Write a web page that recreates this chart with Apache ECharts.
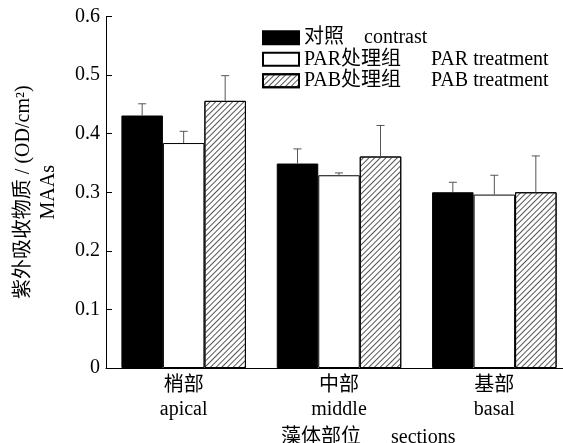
<!DOCTYPE html>
<html lang="zh">
<head>
    <meta charset="UTF-8">
    <title>MAAs</title>
    <script src="https://cdn.jsdelivr.net/npm/echarts@6/dist/echarts.min.js"></script>
</head>
<body style="margin:0">
    <div id="main" style="width: 563px;height:443px;"></div>
    <script type="text/javascript">
        // 数据
        const sections = ['梢部\napical', '中部\nmiddle', '基部\nbasal'];
        const seriesNames = ['对照    contrast', 'PAR处理组      PAR treatment', 'PAB处理组      PAB treatment'];
        const contrast = [0.431, 0.349, 0.300];
        const parTreat = [0.384, 0.329, 0.296];
        const pabTreat = [0.456, 0.361, 0.300];
        const contrastErr = [0.020, 0.025, 0.017];
        const parErr = [0.020, 0.004, 0.033];
        const pabErr = [0.043, 0.053, 0.062];

        const font = "'Liberation Serif', 'Noto Sans CJK SC', serif";
        const barW = 41.5;
        var myChart = echarts.init(document.getElementById('main'));

        const means = [contrast, parTreat, pabTreat];
        const errs = [contrastErr, parErr, pabErr];
        let errData = [];
        for (let s = 0; s < 3; s++) {
            for (let i = 0; i < sections.length; i++) {
                errData.push([i, means[s][i], errs[s][i], s]);
            }
        }

        function renderErr(params, api) {
            const idx = api.value(0);
            const m = api.value(1);
            const e = api.value(2);
            const s = api.value(3);
            const base = api.coord([idx, m]);
            const top = api.coord([idx, m + e]);
            const x = base[0] + (s - 1) * barW;
            const style = { stroke: '#555', lineWidth: 1 };
            return {
                type: 'group',
                children: [
                    { type: 'line', shape: { x1: x, y1: base[1], x2: x, y2: top[1] }, style: style },
                    { type: 'line', shape: { x1: x - 4, y1: top[1], x2: x + 4, y2: top[1] }, style: style }
                ]
            };
        }

        const option = {
            animation: false,
            title: {
                text: '藻体部位      sections',
                left: 276,
                top: 423,
                textStyle: { fontFamily: font, fontSize: 20, fontWeight: 'normal', color: '#000' }
            },
            legend: {
                orient: 'vertical',
                left: 257,
                top: 22,
                icon: 'rect',
                itemWidth: 36,
                itemHeight: 13,
                itemGap: 0,
                data: seriesNames,
                textStyle: { fontFamily: font, fontSize: 20, color: '#000', lineHeight: 21.5 }
            },
            grid: { left: 106, top: 16.5, bottom: 75, width: 466, outerBoundsMode: 'none' },
            xAxis: [{
                type: 'category',
                data: sections,
                axisLine: { lineStyle: { color: '#000', width: 1 } },
                axisTick: { alignWithLabel: true, inside: true, length: 5, lineStyle: { color: '#000', width: 2 } },
                axisLabel: { fontFamily: font, fontSize: 20, color: '#000', lineHeight: 24, margin: 6 }
            }, {
                type: 'category',
                data: sections,
                position: 'bottom',
                axisLine: { show: false },
                axisTick: { inside: true, length: 5, lineStyle: { color: '#000', width: 2 } },
                axisLabel: { show: false }
            }],
            yAxis: {
                type: 'value',
                min: 0,
                max: 0.6,
                interval: 0.1,
                name: '紫外吸收物质 / (OD/cm²)\nMAAs',
                nameLocation: 'middle',
                nameRotate: 90,
                nameGap: 45,
                nameTextStyle: { fontFamily: font, fontSize: 20, color: '#000', lineHeight: 25 },
                axisLine: { show: true, lineStyle: { color: '#000', width: 1 } },
                axisTick: { show: true, inside: true, length: 6, lineStyle: { color: '#000' } },
                splitLine: { show: false },
                axisLabel: {
                    fontFamily: font, fontSize: 20, color: '#000', margin: 6,
                    formatter: function (v) { return v === 0 ? '0' : v.toFixed(1); }
                }
            },
            series: [{
                name: seriesNames[0],
                type: 'bar',
                barWidth: barW,
                barGap: '0%',
                data: contrast,
                itemStyle: { color: '#000', borderColor: '#000', borderWidth: 1 }
            }, {
                name: seriesNames[1],
                type: 'bar',
                barWidth: barW,
                barGap: '0%',
                data: parTreat,
                itemStyle: { color: '#fff', borderColor: '#000', borderWidth: 1 }
            }, {
                name: seriesNames[2],
                type: 'bar',
                barWidth: barW,
                barGap: '0%',
                data: pabTreat,
                itemStyle: {
                    color: '#fff', borderColor: '#000', borderWidth: 1,
                    decal: {
                        symbol: 'rect',
                        color: '#555',
                        dashArrayX: [1, 0],
                        dashArrayY: [1, 3],
                        rotation: -Math.PI / 4
                    }
                }
            }, {
                type: 'custom',
                renderItem: renderErr,
                data: errData,
                z: 5
            }]
        };

        myChart.setOption(option);
    </script>
</body>
</html>
